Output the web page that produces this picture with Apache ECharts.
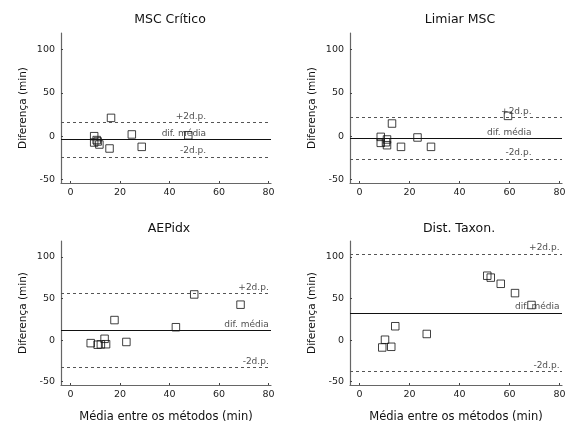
<!DOCTYPE html>
<html>
<head>
<meta charset="utf-8">
<script src="https://cdn.jsdelivr.net/npm/echarts@6/dist/echarts.min.js"></script>
<style>
html,body{margin:0;padding:0;background:#fff;}
#c{width:569px;height:424px;}
</style>
</head>
<body>
<div id="c"></div>
<script>
var titles = ['MSC Crítico', 'Limiar MSC', 'AEPidx', 'Dist. Taxon.'];
var xName = 'Média entre os métodos (min)';
var yName = 'Diferença (min)';
var xTicks = [0, 20, 40, 60, 80];
var yTicks = [-50, 0, 50, 100];
var annotTexts = ['+2d.p.', 'dif. média', '-2d.p.'];

var p1x = [9.6, 9.6, 10.6, 11.0, 11.7, 15.8, 16.4, 24.8, 28.8, 47.6];
var p1y = [0, -7.3, -4.5, -6.1, -9.6, -14.2, 21.1, 2, -12.3, 1];
var p2x = [8.5, 8.5, 10.6, 11, 11, 13, 16.6, 23.2, 28.6, 59.4];
var p2y = [-0.8, -7.7, -7, -3.8, -10.4, 14.6, -12.3, -1.5, -12.3, 23.4];
var p3x = [8.2, 11.0, 12.3, 13.8, 14.4, 17.8, 22.6, 42.6, 50, 68.7];
var p3y = [-3.7, -5.6, -5.2, 1.5, -5, 24, -2.3, 15.4, 54.8, 42.5];
var p4x = [9.1, 10.2, 12.7, 14.3, 26.9, 51.1, 52.5, 56.5, 62.2, 68.8];
var p4y = [-8.9, 0.4, -8.1, 16.6, 7.3, 77.3, 75, 67.6, 56.4, 42.1];

var meanLine = [-3.8, -2.3, 11.2, 32.8];
var upperLine = [16.1, 21.5, 56, 103.2];
var lowerLine = [-23.9, -26.5, -32.8, -37.9];
var labelX = [55, 69, 80.3, 80.2];

var xs = [p1x, p2x, p3x, p4x];
var ys = [p1y, p2y, p3y, p4y];

var grids = [
  {left: 61, top: 33, width: 210, height: 150},
  {left: 350, top: 33, width: 212, height: 150},
  {left: 61, top: 241, width: 210, height: 150},
  {left: 350, top: 241, width: 212, height: 150}
];
var titlePos = [[165, 8], [455, 8], [164, 217], [454, 217]];

var FONT = 'DejaVu Sans';
var axisLine = {show: true, onZero: false, lineStyle: {color: '#666', width: 1.2}};

var option = {
  animation: false,
  backgroundColor: '#fff',
  title: titles.map(function (t, i) {
    return {text: t, left: titlePos[i][0], top: titlePos[i][1], textAlign: 'center',
      textStyle: {fontFamily: FONT, fontSize: 12.5, fontWeight: 'normal', color: '#111'}};
  }),
  grid: grids,
  xAxis: grids.map(function (g, i) {
    return {
      type: 'value', gridIndex: i, min: -3.8, max: 81,
      name: i >= 2 ? xName : '', nameLocation: 'middle', nameGap: 26,
      nameTextStyle: {fontFamily: FONT, fontSize: 11.5, color: '#111'},
      axisLine: axisLine,
      axisTick: {show: true, inside: true, length: 2, lineStyle: {color: '#444'}, customValues: xTicks},
      axisLabel: {fontFamily: FONT, fontSize: 9.5, color: '#222', margin: 5, customValues: xTicks},
      splitLine: {show: false}
    };
  }),
  yAxis: grids.map(function (g, i) {
    return {
      type: 'value', gridIndex: i, min: -54, max: 119,
      name: yName, nameLocation: 'middle', nameGap: 32,
      nameTextStyle: {fontFamily: FONT, fontSize: 10.5, color: '#111'},
      axisLine: axisLine,
      axisTick: {show: true, inside: true, length: 2, lineStyle: {color: '#444'}, customValues: yTicks},
      axisLabel: {fontFamily: FONT, fontSize: 9.5, color: '#222', margin: 6, customValues: yTicks},
      splitLine: {show: false}
    };
  }),
  series: []
};

for (var i = 0; i < 4; i++) {
  var pts = xs[i].map(function (x, k) { return [x, ys[i][k]]; });
  option.series.push({
    type: 'scatter', xAxisIndex: i, yAxisIndex: i, data: pts,
    symbol: 'rect', symbolSize: 7.5,
    itemStyle: {color: 'transparent', borderColor: '#111', borderWidth: 1},
    silent: true, z: 3,
    markLine: {
      silent: true, symbol: ['none', 'none'], label: {show: false},
      data: [
        {yAxis: meanLine[i], lineStyle: {type: 'solid', color: '#111', width: 1}},
        {yAxis: upperLine[i], lineStyle: {type: [3, 3], color: '#555', width: 1}},
        {yAxis: lowerLine[i], lineStyle: {type: [3, 3], color: '#555', width: 1}}
      ]
    }
  });
  var lv = [upperLine[i], meanLine[i], lowerLine[i]];
  option.series.push({
    type: 'scatter', xAxisIndex: i, yAxisIndex: i, silent: true, z: 4,
    symbolSize: 1, itemStyle: {color: 'transparent'},
    data: lv.map(function (v, k) {
      return {value: [labelX[i], v], label: {formatter: annotTexts[k]}};
    }),
    label: {show: true, position: [0, -1], align: 'right', verticalAlign: 'bottom',
      fontFamily: FONT, fontSize: 9, color: '#222'}
  });
}

var chart = echarts.init(document.getElementById('c'), null, {renderer: 'canvas'});
chart.setOption(option);
</script>
</body>
</html>
